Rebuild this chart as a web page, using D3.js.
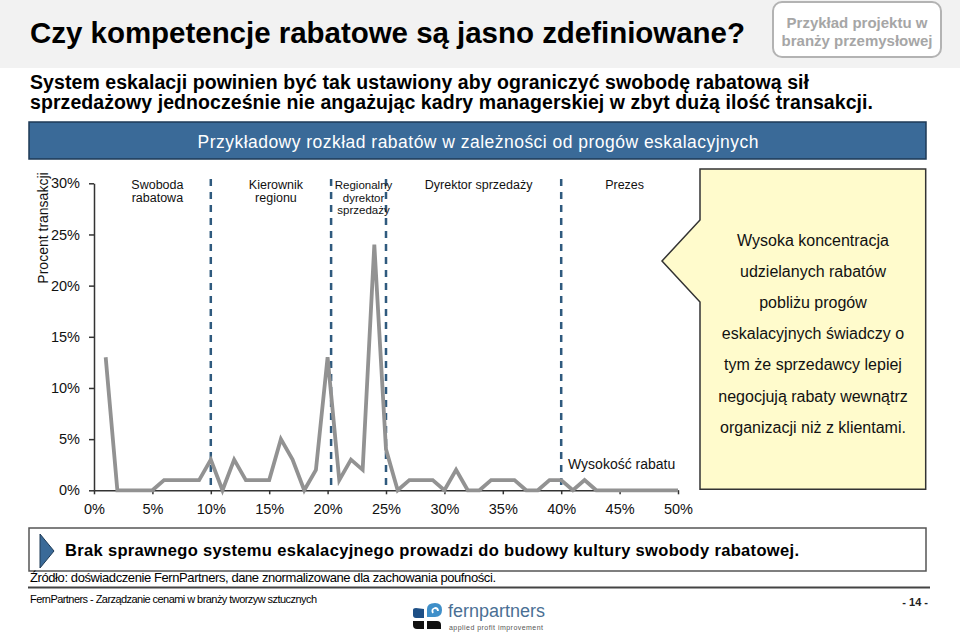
<!DOCTYPE html>
<html>
<head>
<meta charset="utf-8">
<script src="https://d3js.org/d3.v7.min.js"></script>
<style>
  body { margin: 0; background: #fff; }
  text { font-family: "Liberation Sans", Arial, sans-serif; }
  .narrow { font-family: "Liberation Sans Narrow", "Arial Narrow", "Liberation Sans", sans-serif; }
</style>
</head>
<body>
<svg id="vis"></svg>
<script>
  // discount level (%) and share of transactions (%)
  var discounts = d3.range(1, 51)
  var shares = [13, 0, 0, 0, 0, 1, 1, 1, 1, 3,
                0, 3, 1, 1, 1, 5, 3, 0, 2, 13,
                1, 3, 2, 24, 4, 0, 1, 1, 1, 0,
                2, 0, 0, 1, 1, 1, 0, 0, 1, 1,
                0, 1, 0, 0, 0, 0, 0, 0, 0, 0]

  // escalation thresholds (discount %) and who approves in each band
  var thresholds = [10, 20.3, 25, 40]
  var approvers = [['Swoboda', 'rabatowa'], ['Kierownik', 'regionu'],
                   ['Regionalny', 'dyrektor', 'sprzedaży'], ['Dyrektor sprzedaży'], ['Prezes']]

  var yTicks = [0, 5, 10, 15, 20, 25, 30]
  var xTicks = [0, 5, 10, 15, 20, 25, 30, 35, 40, 45, 50]

  var noteLines = ['Wysoka koncentracja', 'udzielanych rabatów', 'pobliżu progów',
                   'eskalacyjnych świadczy o', 'tym że sprzedawcy lepiej',
                   'negocjują rabaty wewnątrz', 'organizacji niż z klientami.']

  var W = 960, H = 636
  var svg = d3.select('#vis').attr('width', W).attr('height', H)

  // header band
  svg.append('rect').attr('x', 0).attr('y', 0).attr('width', W).attr('height', 68).attr('fill', '#f2f2f2')
  svg.append('text').attr('x', 30).attr('y', 43)
    .attr('font-size', 29.5).attr('font-weight', 'bold').attr('fill', '#000')
    .attr('textLength', 715)
    .text('Czy kompetencje rabatowe są jasno zdefiniowane?')

  svg.append('rect').attr('x', 773).attr('y', 2).attr('width', 168).attr('height', 55).attr('rx', 9)
    .attr('fill', '#fff').attr('stroke', '#b3b3b3').attr('stroke-width', 2)
  svg.append('text').attr('x', 857).attr('y', 27.5).attr('text-anchor', 'middle')
    .attr('font-size', 15).attr('font-weight', 'bold').attr('fill', '#a6a6a6')
    .text('Przykład projektu w')
  svg.append('text').attr('x', 857).attr('y', 45.5).attr('text-anchor', 'middle')
    .attr('font-size', 15).attr('font-weight', 'bold').attr('fill', '#a6a6a6')
    .text('branży przemysłowej')

  svg.append('text').attr('x', 30).attr('y', 89)
    .attr('font-size', 19.5).attr('font-weight', 'bold').attr('textLength', 779)
    .text('System eskalacji powinien być tak ustawiony aby ograniczyć swobodę rabatową sił')
  svg.append('text').attr('x', 30).attr('y', 109)
    .attr('font-size', 19.5).attr('font-weight', 'bold').attr('textLength', 843)
    .text('sprzedażowy jednocześnie nie angażując kadry managerskiej w zbyt dużą ilość transakcji.')

  // blue title bar
  svg.append('rect').attr('x', 29).attr('y', 122).attr('width', 897).attr('height', 37)
    .attr('fill', '#3a6a98').attr('stroke', '#1e3a56').attr('stroke-width', 1.5)
  svg.append('text').attr('x', 478).attr('y', 147.5).attr('text-anchor', 'middle')
    .attr('font-size', 17.5).attr('fill', '#fff').attr('textLength', 561)
    .text('Przykładowy rozkład rabatów w zależności od progów eskalacyjnych')

  // scales
  var x = d3.scaleLinear().domain([0, 50]).range([94, 678])
  var y = d3.scaleLinear().domain([0, 30]).range([490.3, 183.3])

  // threshold lines
  svg.selectAll('.thr').data(thresholds).enter().append('line')
    .attr('x1', function(d) { return x(d) }).attr('x2', function(d) { return x(d) })
    .attr('y1', 179).attr('y2', y(0))
    .attr('stroke', '#2f5a7e').attr('stroke-width', 2.5).attr('stroke-dasharray', '7,6')

  // approver labels, centered in each band
  var edges = [0].concat(thresholds).concat([50])
  approvers.forEach(function(lines, i) {
    var cx = x((edges[i] + edges[i + 1]) / 2) + 5
    var fs = lines.length > 2 ? 11.5 : 12.5
    var t = svg.append('text').attr('x', cx).attr('y', 189).attr('text-anchor', 'middle')
      .attr('font-size', fs).attr('fill', '#111')
    lines.forEach(function(l, j) {
      t.append('tspan').attr('x', cx).attr('dy', j == 0 ? 0 : (lines.length > 2 ? 12.5 : 13)).text(l)
    })
  })

  // axes
  var yAxis = d3.axisLeft(y).tickValues(yTicks).tickFormat(function(d) { return d + '%' })
    .tickSize(5).tickSizeOuter(0).tickPadding(9)
  var gy = svg.append('g').attr('transform', 'translate(94,0)').call(yAxis)
  gy.selectAll('text').attr('font-size', 14.5).attr('fill', '#111').attr('font-family', '"Liberation Sans", Arial, sans-serif')

  var xAxis = d3.axisBottom(x).tickValues(xTicks).tickFormat(function(d) { return d + '%' })
    .tickSize(4).tickSizeOuter(0).tickPadding(9)
  var gx = svg.append('g').attr('transform', 'translate(0,' + y(0) + ')').call(xAxis)
  gx.selectAll('text').attr('font-size', 14.5).attr('fill', '#111').attr('font-family', '"Liberation Sans", Arial, sans-serif')

  ;[gx, gy].forEach(function(g) {
    g.select('.domain').attr('stroke', '#333').attr('stroke-width', 1.5)
    g.selectAll('.tick line').attr('stroke', '#333').attr('stroke-width', 1.5)
  })

  svg.append('text').attr('transform', 'translate(48,228) rotate(-90)').attr('text-anchor', 'middle')
    .attr('font-size', 14).attr('fill', '#111').text('Procent transakcji')

  // data line
  var line = d3.line().x(function(d, i) { return x(discounts[i]) }).y(function(d) { return y(d) })
  svg.append('path').datum(shares).attr('d', line)
    .attr('fill', 'none').attr('stroke', '#929292').attr('stroke-width', 3.8).attr('stroke-linejoin', 'miter')

  svg.append('text').attr('x', 568).attr('y', 469).attr('font-size', 14).attr('fill', '#111')
    .text('Wysokość rabatu')

  // callout
  var cx0 = 700, cx1 = 925.7, cy0 = 169, cy1 = 489.3
  svg.append('path')
    .attr('d', 'M' + cx0 + ',' + cy0 + 'L' + cx1 + ',' + cy0 + 'L' + cx1 + ',' + cy1 + 'L' + cx0 + ',' + cy1 +
      'L' + cx0 + ',302L662,261L' + cx0 + ',220Z')
    .attr('fill', '#fffbcc').attr('stroke', '#333').attr('stroke-width', 1.5)
  svg.selectAll('.note').data(noteLines).enter().append('text')
    .attr('x', 813).attr('y', function(d, i) { return 246 + i * 31.1 })
    .attr('text-anchor', 'middle').attr('font-size', 16).attr('fill', '#111')
    .text(function(d) { return d })

  // conclusion box
  svg.append('rect').attr('x', 29).attr('y', 528).attr('width', 897).attr('height', 43)
    .attr('fill', '#fff').attr('stroke', '#555').attr('stroke-width', 1.5)
  svg.append('path').attr('d', 'M40,534L54,551L40,568Z')
    .attr('fill', '#3a6a98').attr('stroke', '#1e3a56').attr('stroke-width', 1)
  svg.append('text').attr('x', 65).attr('y', 556).attr('font-size', 16.5).attr('font-weight', 'bold')
    .attr('textLength', 734)
    .text('Brak sprawnego systemu eskalacyjnego prowadzi do budowy kultury swobody rabatowej.')

  svg.append('text').attr('class', 'narrow').attr('x', 30).attr('y', 582).attr('font-size', 13)
    .attr('textLength', 466)
    .text('Źródło: doświadczenie FernPartners, dane znormalizowane dla zachowania poufności.')
  svg.append('line').attr('x1', 28).attr('x2', 930).attr('y1', 587.5).attr('y2', 587.5)
    .attr('stroke', '#444').attr('stroke-width', 2)

  svg.append('text').attr('class', 'narrow').attr('x', 30).attr('y', 603).attr('font-size', 11)
    .attr('textLength', 287)
    .text('FernPartners - Zarządzanie cenami w branży tworzyw sztucznych')
  svg.append('text').attr('class', 'narrow').attr('x', 928).attr('y', 606).attr('font-size', 11)
    .attr('font-weight', 'bold').attr('text-anchor', 'end').attr('fill', '#222').text('- 14 -')

  // logo
  var logo = svg.append('g')
  logo.append('path').attr('d', 'M413,610 Q413,608 416,608 L424,609 L424,618 L416,618 Q413,618 413,615Z').attr('fill', '#1d4f86')
  logo.append('path').attr('d', 'M427,617 L427,609 Q427,603 435,603 Q442,603 442,610 Q442,617 435,617Z').attr('fill', '#3f8fc9')
  logo.append('path').attr('d', 'M433,613 Q431,609 435,608 Q438,608 438,611').attr('fill', 'none').attr('stroke', '#fff').attr('stroke-width', 1.8)
  logo.append('path').attr('d', 'M413,621 L424,621 L424,629 L417,629 Q413,629 413,625Z').attr('fill', '#111')
  logo.append('path').attr('d', 'M427,621 L437,621 Q441,621 441,625 L441,629 L427,629Z').attr('fill', '#111')
  logo.append('text').attr('x', 448).attr('y', 617).attr('font-size', 18).attr('fill', '#4a6f94')
    .attr('textLength', 97).text('fernpartners')
  logo.append('text').attr('x', 449).attr('y', 630).attr('font-size', 7).attr('fill', '#555')
    .attr('textLength', 94).text('applied profit improvement')
</script>
</body>
</html>
